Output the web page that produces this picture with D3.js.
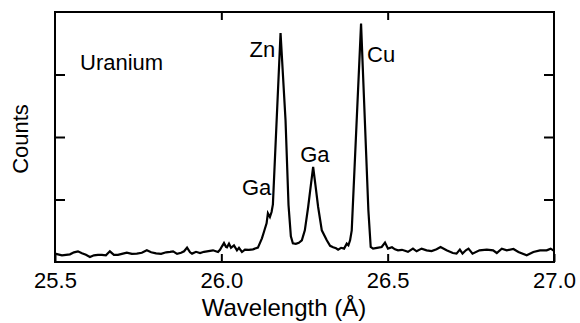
<!DOCTYPE html>
<html>
<head>
<meta charset="utf-8">
<script src="https://cdn.jsdelivr.net/npm/d3@7"></script>
<style>
  html, body { margin: 0; padding: 0; background: #fff; }
  svg { display: block; font-family: "Liberation Sans", Arial, Helvetica, sans-serif; }
</style>
</head>
<body>
<svg id="chart" width="580" height="323"></svg>
<script>
// Wavelength (Å) and counts (arbitrary units)
const wavelength = [
  25.500, 25.509, 25.521, 25.533, 25.545, 25.557, 25.569, 25.581, 25.593, 25.605,
  25.617, 25.629, 25.641, 25.653, 25.665, 25.677, 25.689, 25.701, 25.716, 25.731,
  25.746, 25.761, 25.776, 25.789, 25.804, 25.819, 25.834, 25.846, 25.855, 25.867,
  25.879, 25.888, 25.897, 25.906, 25.912, 25.924, 25.936, 25.948, 25.957, 25.966,
  25.975, 25.990, 25.996, 26.002, 26.008, 26.014, 26.017, 26.023, 26.029, 26.038,
  26.047, 26.053, 26.062, 26.071, 26.083, 26.095, 26.110, 26.122, 26.128, 26.136,
  26.140, 26.146, 26.151, 26.155, 26.178, 26.193, 26.202, 26.209, 26.215, 26.224,
  26.233, 26.242, 26.251, 26.261, 26.269, 26.276, 26.283, 26.291, 26.302, 26.317,
  26.327, 26.336, 26.345, 26.351, 26.360, 26.369, 26.377, 26.382, 26.387, 26.392,
  26.420, 26.442, 26.449, 26.456, 26.468, 26.482, 26.492, 26.501, 26.513, 26.522,
  26.531, 26.543, 26.552, 26.561, 26.576, 26.587, 26.602, 26.617, 26.632, 26.647,
  26.659, 26.677, 26.696, 26.707, 26.717, 26.725, 26.735, 26.743, 26.755, 26.776,
  26.798, 26.817, 26.828, 26.843, 26.858, 26.878, 26.893, 26.918, 26.938, 26.958,
  26.978, 26.990, 26.998, 27.000
];
const counts = [
  0.134, 0.123, 0.107, 0.115, 0.123, 0.155, 0.171, 0.139, 0.115, 0.080,
  0.107, 0.115, 0.115, 0.107, 0.171, 0.115, 0.115, 0.131, 0.150, 0.131,
  0.134, 0.147, 0.187, 0.155, 0.139, 0.131, 0.155, 0.163, 0.171, 0.131,
  0.147, 0.171, 0.230, 0.155, 0.134, 0.163, 0.144, 0.163, 0.171, 0.179,
  0.187, 0.160, 0.195, 0.251, 0.304, 0.243, 0.235, 0.294, 0.227, 0.267,
  0.187, 0.227, 0.160, 0.198, 0.195, 0.203, 0.230, 0.379, 0.480, 0.619,
  0.779, 0.720, 0.800, 0.923, 3.664, 2.267, 0.907, 0.411, 0.299, 0.291,
  0.307, 0.347, 0.507, 0.880, 1.227, 1.520, 1.227, 0.880, 0.507, 0.347,
  0.259, 0.235, 0.219, 0.198, 0.227, 0.214, 0.294, 0.267, 0.347, 0.507,
  3.814, 0.827, 0.240, 0.214, 0.227, 0.240, 0.310, 0.214, 0.235, 0.203,
  0.187, 0.195, 0.179, 0.163, 0.214, 0.171, 0.214, 0.187, 0.176, 0.203,
  0.240, 0.187, 0.144, 0.134, 0.198, 0.134, 0.187, 0.214, 0.134, 0.187,
  0.198, 0.187, 0.144, 0.214, 0.187, 0.208, 0.160, 0.107, 0.160, 0.187,
  0.187, 0.214, 0.187, 0.187
];
const xTickValues = [25.5, 26.0, 26.5, 27.0];
const yTickValues = [1, 2, 3];
const peakLabels = ["Zn", "Cu", "Ga", "Ga"];
const peakWavelengths = [26.178, 26.420, 26.276, 26.155];
const sampleName = "Uranium";
const xTitle = "Wavelength (Å)";
const yTitle = "Counts";

const svg = d3.select("#chart");
const mLeft = 55, mRight = 554, mTop = 12, mBottom = 262;

const x = d3.scaleLinear().domain([25.5, 27.0]).range([mLeft, mRight]);
const y = d3.scaleLinear().domain([0, 4]).range([mBottom, mTop]);

// frame
svg.append("rect")
  .attr("x", mLeft).attr("y", mTop)
  .attr("width", mRight - mLeft).attr("height", mBottom - mTop)
  .attr("fill", "none").attr("stroke", "#000").attr("stroke-width", 2);

function styleAxis(g) {
  g.select(".domain").remove();
  g.selectAll(".tick line").attr("stroke", "#000").attr("stroke-width", 2);
  g.selectAll(".tick text").attr("fill", "#000");
}

svg.append("g")
  .attr("transform", `translate(0,${mBottom})`)
  .call(d3.axisBottom(x).tickValues(xTickValues).tickFormat(d3.format(".1f"))
    .tickSizeInner(-8).tickSizeOuter(0).tickPadding(10))
  .call(styleAxis)
  .call(g => g.attr("font-family", null).attr("font-size", null)
    .selectAll(".tick text").attr("font-size", 22));

svg.append("g")
  .attr("transform", `translate(0,${mTop})`)
  .call(d3.axisTop(x).tickValues(xTickValues.slice(1, -1)).tickFormat("")
    .tickSizeInner(-8).tickSizeOuter(0))
  .call(styleAxis);

svg.append("g")
  .attr("transform", `translate(${mLeft},0)`)
  .call(d3.axisLeft(y).tickValues(yTickValues).tickFormat("")
    .tickSizeInner(-10).tickSizeOuter(0))
  .call(styleAxis);

svg.append("g")
  .attr("transform", `translate(${mRight},0)`)
  .call(d3.axisRight(y).tickValues(yTickValues).tickFormat("")
    .tickSizeInner(-10).tickSizeOuter(0))
  .call(styleAxis);

// spectrum line
const pts = wavelength.map((w, i) => [w, counts[i]]);
svg.append("path")
  .datum(pts)
  .attr("fill", "none")
  .attr("stroke", "#000")
  .attr("stroke-width", 2.2)
  .attr("stroke-linejoin", "miter")
  .attr("d", d3.line().x(d => x(d[0])).y(d => y(d[1])));

// labels
svg.append("text").attr("x", 80).attr("y", 70).attr("font-size", 22).text(sampleName);

const labelPos = [
  { dx: -31, y: 56.5 },   // Zn
  { dx: 6, y: 61.5 },     // Cu
  { dx: -13, y: 162 },    // Ga (right)
  { dx: -31, y: 195 }     // Ga (left shoulder)
];
peakLabels.forEach((t, i) => {
  svg.append("text")
    .attr("x", x(peakWavelengths[i]) + labelPos[i].dx)
    .attr("y", labelPos[i].y)
    .attr("font-size", 22)
    .text(t);
});

svg.append("text")
  .attr("x", 284).attr("y", 316)
  .attr("text-anchor", "middle").attr("font-size", 24)
  .text(xTitle);

svg.append("text")
  .attr("transform", `translate(28,${(mTop + mBottom) / 2 + 2}) rotate(-90)`)
  .attr("text-anchor", "middle").attr("font-size", 22)
  .text(yTitle);
</script>
</body>
</html>
